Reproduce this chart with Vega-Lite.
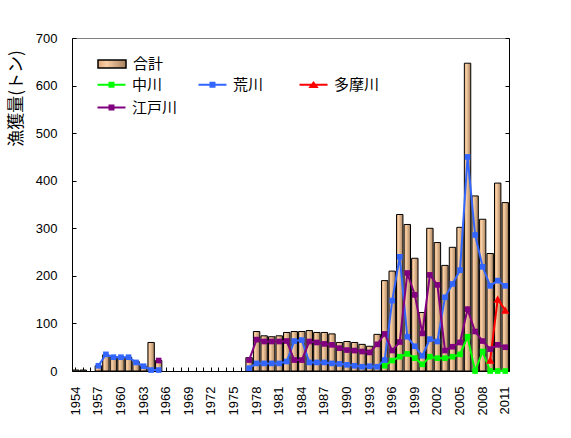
{
  "$schema": "https://vega.github.io/schema/vega-lite/v6.json",
  "width": 437,
  "height": 333,
  "autosize": {"type": "none"},
  "padding": {"left": 72, "top": 38, "right": 62, "bottom": 67},
  "background": "white",
  "config": {
    "view": {"stroke": "#808080", "strokeWidth": 1},
    "font": "Liberation Sans",
    "legend": {
      "labelFont": "Noto Sans CJK JP",
      "labelFontSize": 15,
      "labelColor": "black",
      "title": null
    }
  },
  "datasets": {
    "total": [
      {"year": 1954, "total": 2, "name": "合計"},
      {"year": 1955, "total": 2, "name": "合計"},
      {"year": 1957, "total": 11, "name": "合計"},
      {"year": 1958, "total": 34, "name": "合計"},
      {"year": 1959, "total": 30, "name": "合計"},
      {"year": 1960, "total": 30, "name": "合計"},
      {"year": 1961, "total": 29, "name": "合計"},
      {"year": 1962, "total": 20, "name": "合計"},
      {"year": 1963, "total": 10, "name": "合計"},
      {"year": 1964, "total": 60, "name": "合計"},
      {"year": 1965, "total": 22, "name": "合計"},
      {"year": 1977, "total": 28, "name": "合計"},
      {"year": 1978, "total": 83, "name": "合計"},
      {"year": 1979, "total": 74, "name": "合計"},
      {"year": 1980, "total": 72, "name": "合計"},
      {"year": 1981, "total": 74, "name": "合計"},
      {"year": 1982, "total": 81, "name": "合計"},
      {"year": 1983, "total": 83, "name": "合計"},
      {"year": 1984, "total": 83, "name": "合計"},
      {"year": 1985, "total": 85, "name": "合計"},
      {"year": 1986, "total": 81, "name": "合計"},
      {"year": 1987, "total": 81, "name": "合計"},
      {"year": 1988, "total": 78, "name": "合計"},
      {"year": 1989, "total": 60, "name": "合計"},
      {"year": 1990, "total": 62, "name": "合計"},
      {"year": 1991, "total": 60, "name": "合計"},
      {"year": 1992, "total": 56, "name": "合計"},
      {"year": 1993, "total": 52, "name": "合計"},
      {"year": 1994, "total": 77, "name": "合計"},
      {"year": 1995, "total": 190, "name": "合計"},
      {"year": 1996, "total": 210, "name": "合計"},
      {"year": 1997, "total": 329, "name": "合計"},
      {"year": 1998, "total": 308, "name": "合計"},
      {"year": 1999, "total": 237, "name": "合計"},
      {"year": 2000, "total": 123, "name": "合計"},
      {"year": 2001, "total": 300, "name": "合計"},
      {"year": 2002, "total": 270, "name": "合計"},
      {"year": 2003, "total": 222, "name": "合計"},
      {"year": 2004, "total": 260, "name": "合計"},
      {"year": 2005, "total": 302, "name": "合計"},
      {"year": 2006, "total": 647, "name": "合計"},
      {"year": 2007, "total": 368, "name": "合計"},
      {"year": 2008, "total": 319, "name": "合計"},
      {"year": 2009, "total": 247, "name": "合計"},
      {"year": 2010, "total": 395, "name": "合計"},
      {"year": 2011, "total": 354, "name": "合計"}
    ],
    "rivers": [
      {"year": 1995, "river": "中川", "v": 11, "seg": "b"},
      {"year": 1996, "river": "中川", "v": 22, "seg": "b"},
      {"year": 1997, "river": "中川", "v": 30, "seg": "b"},
      {"year": 1998, "river": "中川", "v": 36, "seg": "b"},
      {"year": 1999, "river": "中川", "v": 27, "seg": "b"},
      {"year": 2000, "river": "中川", "v": 14, "seg": "b"},
      {"year": 2001, "river": "中川", "v": 30, "seg": "b"},
      {"year": 2002, "river": "中川", "v": 27, "seg": "b"},
      {"year": 2003, "river": "中川", "v": 27, "seg": "b"},
      {"year": 2004, "river": "中川", "v": 30, "seg": "b"},
      {"year": 2005, "river": "中川", "v": 35, "seg": "b"},
      {"year": 2006, "river": "中川", "v": 72, "seg": "b"},
      {"year": 2007, "river": "中川", "v": 0, "seg": "b"},
      {"year": 2008, "river": "中川", "v": 41, "seg": "b"},
      {"year": 2009, "river": "中川", "v": 0, "seg": "b"},
      {"year": 2010, "river": "中川", "v": 0, "seg": "b"},
      {"year": 2011, "river": "中川", "v": 0, "seg": "b"},
      {"year": 1957, "river": "荒川", "v": 11, "seg": "a"},
      {"year": 1958, "river": "荒川", "v": 35, "seg": "a"},
      {"year": 1959, "river": "荒川", "v": 29, "seg": "a"},
      {"year": 1960, "river": "荒川", "v": 29, "seg": "a"},
      {"year": 1961, "river": "荒川", "v": 29, "seg": "a"},
      {"year": 1962, "river": "荒川", "v": 18, "seg": "a"},
      {"year": 1963, "river": "荒川", "v": 10, "seg": "a"},
      {"year": 1964, "river": "荒川", "v": 2, "seg": "a"},
      {"year": 1965, "river": "荒川", "v": 2, "seg": "a"},
      {"year": 1977, "river": "荒川", "v": 6, "seg": "b"},
      {"year": 1978, "river": "荒川", "v": 16, "seg": "b"},
      {"year": 1979, "river": "荒川", "v": 16, "seg": "b"},
      {"year": 1980, "river": "荒川", "v": 16, "seg": "b"},
      {"year": 1981, "river": "荒川", "v": 16, "seg": "b"},
      {"year": 1982, "river": "荒川", "v": 20, "seg": "b"},
      {"year": 1983, "river": "荒川", "v": 63, "seg": "b"},
      {"year": 1984, "river": "荒川", "v": 65, "seg": "b"},
      {"year": 1985, "river": "荒川", "v": 18, "seg": "b"},
      {"year": 1986, "river": "荒川", "v": 18, "seg": "b"},
      {"year": 1987, "river": "荒川", "v": 18, "seg": "b"},
      {"year": 1988, "river": "荒川", "v": 16, "seg": "b"},
      {"year": 1989, "river": "荒川", "v": 15, "seg": "b"},
      {"year": 1990, "river": "荒川", "v": 13, "seg": "b"},
      {"year": 1991, "river": "荒川", "v": 11, "seg": "b"},
      {"year": 1992, "river": "荒川", "v": 9, "seg": "b"},
      {"year": 1993, "river": "荒川", "v": 10, "seg": "b"},
      {"year": 1994, "river": "荒川", "v": 9, "seg": "b"},
      {"year": 1995, "river": "荒川", "v": 23, "seg": "b"},
      {"year": 1996, "river": "荒川", "v": 148, "seg": "b"},
      {"year": 1997, "river": "荒川", "v": 240, "seg": "b"},
      {"year": 1998, "river": "荒川", "v": 72, "seg": "b"},
      {"year": 1999, "river": "荒川", "v": 52, "seg": "b"},
      {"year": 2000, "river": "荒川", "v": 32, "seg": "b"},
      {"year": 2001, "river": "荒川", "v": 67, "seg": "b"},
      {"year": 2002, "river": "荒川", "v": 62, "seg": "b"},
      {"year": 2003, "river": "荒川", "v": 155, "seg": "b"},
      {"year": 2004, "river": "荒川", "v": 183, "seg": "b"},
      {"year": 2005, "river": "荒川", "v": 212, "seg": "b"},
      {"year": 2006, "river": "荒川", "v": 450, "seg": "b"},
      {"year": 2007, "river": "荒川", "v": 286, "seg": "b"},
      {"year": 2008, "river": "荒川", "v": 219, "seg": "b"},
      {"year": 2009, "river": "荒川", "v": 179, "seg": "b"},
      {"year": 2010, "river": "荒川", "v": 190, "seg": "b"},
      {"year": 2011, "river": "荒川", "v": 179, "seg": "b"},
      {"year": 2009, "river": "多摩川", "v": 23, "seg": "b"},
      {"year": 2010, "river": "多摩川", "v": 151, "seg": "b"},
      {"year": 2011, "river": "多摩川", "v": 128, "seg": "b"},
      {"year": 1965, "river": "江戸川", "v": 22, "seg": "a"},
      {"year": 1977, "river": "江戸川", "v": 23, "seg": "b"},
      {"year": 1978, "river": "江戸川", "v": 66, "seg": "b"},
      {"year": 1979, "river": "江戸川", "v": 62, "seg": "b"},
      {"year": 1980, "river": "江戸川", "v": 62, "seg": "b"},
      {"year": 1981, "river": "江戸川", "v": 62, "seg": "b"},
      {"year": 1982, "river": "江戸川", "v": 63, "seg": "b"},
      {"year": 1983, "river": "江戸川", "v": 23, "seg": "b"},
      {"year": 1984, "river": "江戸川", "v": 23, "seg": "b"},
      {"year": 1985, "river": "江戸川", "v": 62, "seg": "b"},
      {"year": 1986, "river": "江戸川", "v": 60, "seg": "b"},
      {"year": 1987, "river": "江戸川", "v": 57, "seg": "b"},
      {"year": 1988, "river": "江戸川", "v": 55, "seg": "b"},
      {"year": 1989, "river": "江戸川", "v": 48, "seg": "b"},
      {"year": 1990, "river": "江戸川", "v": 44, "seg": "b"},
      {"year": 1991, "river": "江戸川", "v": 43, "seg": "b"},
      {"year": 1992, "river": "江戸川", "v": 41, "seg": "b"},
      {"year": 1993, "river": "江戸川", "v": 39, "seg": "b"},
      {"year": 1994, "river": "江戸川", "v": 56, "seg": "b"},
      {"year": 1995, "river": "江戸川", "v": 78, "seg": "b"},
      {"year": 1996, "river": "江戸川", "v": 43, "seg": "b"},
      {"year": 1997, "river": "江戸川", "v": 61, "seg": "b"},
      {"year": 1998, "river": "江戸川", "v": 206, "seg": "b"},
      {"year": 1999, "river": "江戸川", "v": 160, "seg": "b"},
      {"year": 2000, "river": "江戸川", "v": 79, "seg": "b"},
      {"year": 2001, "river": "江戸川", "v": 202, "seg": "b"},
      {"year": 2002, "river": "江戸川", "v": 181, "seg": "b"},
      {"year": 2003, "river": "江戸川", "v": 43, "seg": "b"},
      {"year": 2004, "river": "江戸川", "v": 51, "seg": "b"},
      {"year": 2005, "river": "江戸川", "v": 60, "seg": "b"},
      {"year": 2006, "river": "江戸川", "v": 130, "seg": "b"},
      {"year": 2007, "river": "江戸川", "v": 83, "seg": "b"},
      {"year": 2008, "river": "江戸川", "v": 63, "seg": "b"},
      {"year": 2009, "river": "江戸川", "v": 46, "seg": "b"},
      {"year": 2010, "river": "江戸川", "v": 55, "seg": "b"},
      {"year": 2011, "river": "江戸川", "v": 50, "seg": "b"}
    ]
  },
  "layer": [
    {
      "data": {"name": "total"},
      "mark": {
        "type": "bar", "stroke": "black", "strokeWidth": 1,
        "fill": {"gradient": "linear", "x1": 0, "y1": 0, "x2": 1, "y2": 0, "stops": [{"offset": 0, "color": "#DFA97B"}, {"offset": 0.3, "color": "#F9CFA4"}, {"offset": 1, "color": "#A8825F"}]}
      },
      "encoding": {
        "x": {
          "field": "year", "type": "ordinal",
          "scale": {
            "domain": [1954,1955,1956,1957,1958,1959,1960,1961,1962,1963,1964,1965,1966,1967,1968,1969,1970,1971,1972,1973,1974,1975,1976,1977,1978,1979,1980,1981,1982,1983,1984,1985,1986,1987,1988,1989,1990,1991,1992,1993,1994,1995,1996,1997,1998,1999,2000,2001,2002,2003,2004,2005,2006,2007,2008,2009,2010,2011],
            "paddingInner": 0.15, "paddingOuter": 0.075
          },
          "axis": {
            "title": null,
            "labelAngle": -90,
            "labelAlign": "right",
            "labelBaseline": "middle",
            "labelExpr": "(datum.value - 1954) % 3 == 0 ? datum.label : ''",
            "labelOverlap": false,
            "labelFont": "Liberation Sans",
            "labelFontSize": 13,
            "labelColor": "black",
            "labelPadding": 19,
            "tickSize": -4,
            "tickColor": "black",
            "domainColor": "black",
            "grid": false
          }
        },
        "y": {
          "field": "total", "type": "quantitative",
          "scale": {"domain": [0, 700], "nice": false},
          "axis": {
            "values": [0, 100, 200, 300, 400, 500, 600, 700],
            "title": "漁獲量(トン)",
            "titleFont": "Noto Sans CJK JP",
            "titleFontSize": 17,
            "titleFontWeight": "normal",
            "titleColor": "black",
            "titleAngle": -90,
            "titleX": -56,
            "titleY": 60,
            "titleAlign": "center",
            "titleBaseline": "middle",
            "labelFont": "Liberation Sans",
            "labelFontSize": 13,
            "labelColor": "black",
            "labelPadding": 19,
            "tickSize": -4,
            "tickColor": "black",
            "domainColor": "black",
            "grid": false
          }
        },
        "opacity": {
          "field": "name", "type": "nominal",
          "scale": {"domain": ["合計"], "range": [1]},
          "legend": {
            "orient": "none",
            "legendX": 25,
            "legendY": 18,
            "symbolType": "M-1,-0.57H3V0.57H-1Z",
            "symbolSize": 196,
            "labelOffset": 20,
            "encode": {
              "symbols": {
                "update": {
                  "fill": {"value": {"gradient": "linear", "x1": 0, "y1": 0, "x2": 1, "y2": 0, "stops": [{"offset": 0, "color": "#F9CCA2"}, {"offset": 1, "color": "#A8886A"}]}},
                  "fillOpacity": {"value": 1},
                  "opacity": {"value": 1},
                  "stroke": {"value": "black"},
                  "strokeWidth": {"value": 1.2}
                }
              }
            }
          }
        }
      }
    },
    {
      "data": {"name": "rivers"},
      "mark": {"type": "line", "strokeWidth": 2},
      "encoding": {
        "x": {"field": "year", "type": "ordinal"},
        "y": {
          "field": "v", "type": "quantitative",
          "axis": {
            "orient": "right",
            "values": [0, 100, 200, 300, 400, 500, 600, 700],
            "labels": false,
            "title": null,
            "tickSize": -4,
            "tickColor": "black",
            "domainColor": "black",
            "grid": false
          }
        },
        "color": {
          "field": "river", "type": "nominal",
          "scale": {"domain": ["中川", "荒川", "多摩川", "江戸川"], "range": ["#00FF00", "#3366FF", "#FF0000", "#800080"]},
          "legend": {
            "orient": "none",
            "direction": "horizontal",
            "legendX": 25,
            "legendY": 39,
            "columns": 3,
            "gridAlign": "all",
            "columnPadding": 20,
            "rowPadding": 7,
            "symbolSize": 196,
            "labelOffset": 20,
            "encode": {
              "symbols": {
                "update": {
                  "shape": {"signal": "datum.value === '多摩川' ? 'M-1,-0.14H3V0.14H-1Z M1,-0.55L1.75,0.45H0.25Z' : 'M-1,-0.14H3V0.14H-1Z M0.57,-0.43H1.43V0.43H0.57Z'"},
                  "size": {"value": 196},
                  "fill": {"scale": "color", "field": "value"},
                  "fillOpacity": {"value": 1},
                  "strokeWidth": {"value": 0}
                }
              }
            }
          }
        },
        "detail": {"field": "seg"}
      }
    },
    {
      "data": {"name": "rivers"},
      "transform": [{"filter": "datum.river !== '多摩川'"}],
      "mark": {"type": "square", "size": 32, "opacity": 1},
      "encoding": {
        "x": {"field": "year", "type": "ordinal"},
        "y": {"field": "v", "type": "quantitative", "axis": null},
        "color": {"field": "river", "type": "nominal"}
      }
    },
    {
      "data": {"name": "rivers"},
      "transform": [{"filter": "datum.river === '多摩川'"}],
      "mark": {"type": "point", "shape": "triangle-up", "filled": true, "size": 70, "opacity": 1},
      "encoding": {
        "x": {"field": "year", "type": "ordinal"},
        "y": {"field": "v", "type": "quantitative", "axis": null},
        "color": {"field": "river", "type": "nominal"}
      }
    }
  ],
  "resolve": {"axis": {"y": "independent"}}
}
